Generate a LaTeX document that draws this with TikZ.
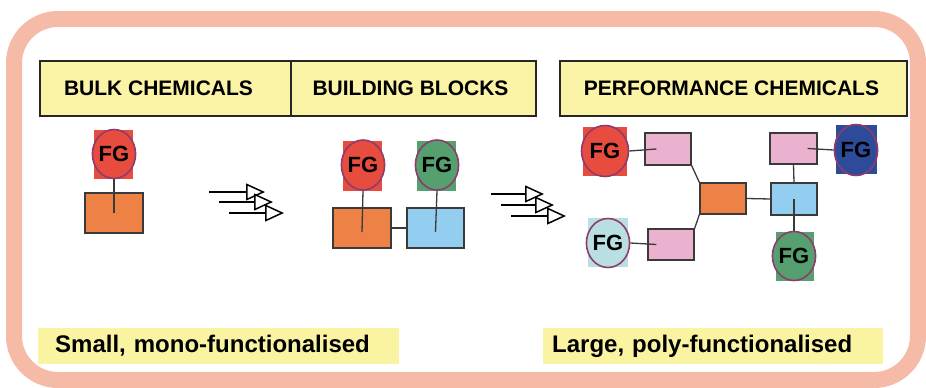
\documentclass[tikz,border=0pt]{standalone}
\usepackage{fontspec}
\setmainfont{Liberation Sans}
\usetikzlibrary{shapes.geometric,arrows.meta}
\definecolor{frame}{HTML}{F6BBA7}
\definecolor{hdr}{HTML}{FBF4A7}
\definecolor{lbl}{HTML}{FAF3A2}
\definecolor{cpink}{HTML}{EBB2CF}
\definecolor{cblue}{HTML}{93CDEF}
\definecolor{corange}{HTML}{EE8145}
\definecolor{cred}{HTML}{E74C3F}
\definecolor{cgreen}{HTML}{55A06E}
\definecolor{cdblue}{HTML}{2E4B9A}
\definecolor{clblue}{HTML}{B9DFE3}
\definecolor{cpurple}{HTML}{8E3B6E}
\definecolor{cline}{HTML}{3A3A3A}
\begin{document}
\begin{tikzpicture}[x=1pt,y=-1pt,
  hdrbox/.style={draw=black!85,line width=1.3,fill=hdr,minimum height=55,inner sep=0,
     font=\fontsize{21}{24}\selectfont\bfseries},
  lblbox/.style={fill=lbl,minimum height=36,align=left,anchor=west,
     font=\fontsize{24}{28}\selectfont\bfseries},
  sq/.style={fill=#1,inner sep=0},
  fg/.style={ellipse,fill=#1,draw=cpurple,line width=1.6,inner sep=0,
     font=\fontsize{22}{24}\selectfont\bfseries},
  blk/.style={rectangle,fill=#1,draw=cline,line width=1.3,inner sep=0},
  conn/.style={draw=cline,line width=1.3},
  arr/.style={line width=1.5,-{Triangle[open,length=19,width=17,line width=1.5]}}
]
\useasboundingbox (0,0) rectangle (926,388);
% outer frame
\draw[frame,line width=16,rounded corners=44] (14,19) rectangle (918,380);
% headers
\node[hdrbox,minimum width=251] (h1) at (165.5,88.5) {BULK CHEMICALS\hspace*{14pt}};
\node[hdrbox,minimum width=245] (h2) at (413.5,88.5) {BUILDING BLOCKS\hspace*{6pt}};
\node[hdrbox,minimum width=347] (h3) at (733.5,88.5) {PERFORMANCE CHEMICALS\hspace*{4pt}};
% bottom labels
\node[lblbox,text width=327,inner xsep=17] (l1) at (38,346) {Small, mono-functionalised};
\node[lblbox,text width=322,inner xsep=9] (l2) at (543,346) {Large, poly-functionalised};

% ---- bulk chemical
\node[blk=corange,minimum width=58,minimum height=40] (b1) at (114,213) {};
\node[sq=cred,minimum width=39,minimum height=49] (s1) at (113.5,154.5) {};
\node[fg=cred,minimum width=41,minimum height=49] (e1) at (114,154) {FG};
\draw[conn] (e1.south) -- (b1.center);

% arrows 1
\coordinate (a1s) at (209,192); \coordinate (a1e) at (265,192);
\coordinate (a2s) at (219,202); \coordinate (a2e) at (273,202);
\coordinate (a3s) at (229,213); \coordinate (a3e) at (284,213);
\draw[arr] (a1s) -- (a1e);
\draw[arr] (a2s) -- (a2e);
\draw[arr] (a3s) -- (a3e);

% ---- building blocks
\node[blk=corange,minimum width=58,minimum height=40] (bb1) at (362,228) {};
\node[blk=cblue,minimum width=57,minimum height=40] (bb2) at (435.5,228) {};
\draw[conn] (bb1.east) -- (bb2.west);
\node[sq=cred,minimum width=39,minimum height=50] (s2) at (362.5,166) {};
\node[fg=cred,minimum width=41,minimum height=50] (e2) at (363,165) {FG};
\node[sq=cgreen,minimum width=39,minimum height=50] (s3) at (436.5,166) {};
\node[fg=cgreen,minimum width=41,minimum height=50] (e3) at (437,165) {FG};
\draw[conn] (e2.south) -- ([yshift=-4]bb1.center);
\draw[conn] (e3.south) -- ([yshift=-4]bb2.center);

% arrows 2
\coordinate (c1s) at (491,194); \coordinate (c1e) at (544,194);
\coordinate (c2s) at (501,205); \coordinate (c2e) at (554,205);
\coordinate (c3s) at (511,216); \coordinate (c3e) at (566,216);
\draw[arr] (c1s) -- (c1e);
\draw[arr] (c2s) -- (c2e);
\draw[arr] (c3s) -- (c3e);

% ---- performance chemicals
\node[blk=cpink,minimum width=46,minimum height=32] (p1) at (668,149) {};
\node[blk=corange,minimum width=46,minimum height=31] (po) at (723,198.5) {};
\node[blk=cpink,minimum width=46,minimum height=31] (p2) at (671,244.5) {};
\node[blk=cblue,minimum width=46,minimum height=32] (pb) at (794,199) {};
\node[blk=cpink,minimum width=47,minimum height=31] (p3) at (793.5,148.5) {};
\draw[conn] (p1.south east) -- (po.north west);
\draw[conn] (po.south west) -- (p2.north east);
\draw[conn] (po.east) -- (pb.west);
\draw[conn] (p3.south) -- (pb.north);

\node[sq=cred,minimum width=44,minimum height=49] (s4) at (605,151.5) {};
\node[fg=cred,minimum width=47,minimum height=51] (e4) at (605,151) {FG};
\draw[conn] (e4.east) -- ([xshift=12]p1.west);

\node[sq=clblue,minimum width=40,minimum height=49] (s5) at (608,242.5) {};
\node[fg=clblue,minimum width=41,minimum height=49] (e5) at (608,243) {FG};
\draw[conn] (e5.east) -- ([xshift=9]p2.west);

\node[sq=cdblue,minimum width=41,minimum height=49] (s6) at (856.5,149.5) {};
\node[fg=cdblue,minimum width=42,minimum height=51] (e6) at (856,150) {FG};
\draw[conn] (e6.west) -- ([xshift=-10]p3.east);

\node[sq=cgreen,minimum width=38,minimum height=49] (s7) at (795,256.5) {};
\node[fg=cgreen,minimum width=40,minimum height=49] (e7) at (794,256) {FG};
\draw[conn] (pb.center) -- (e7.north);
\end{tikzpicture}
\end{document}
